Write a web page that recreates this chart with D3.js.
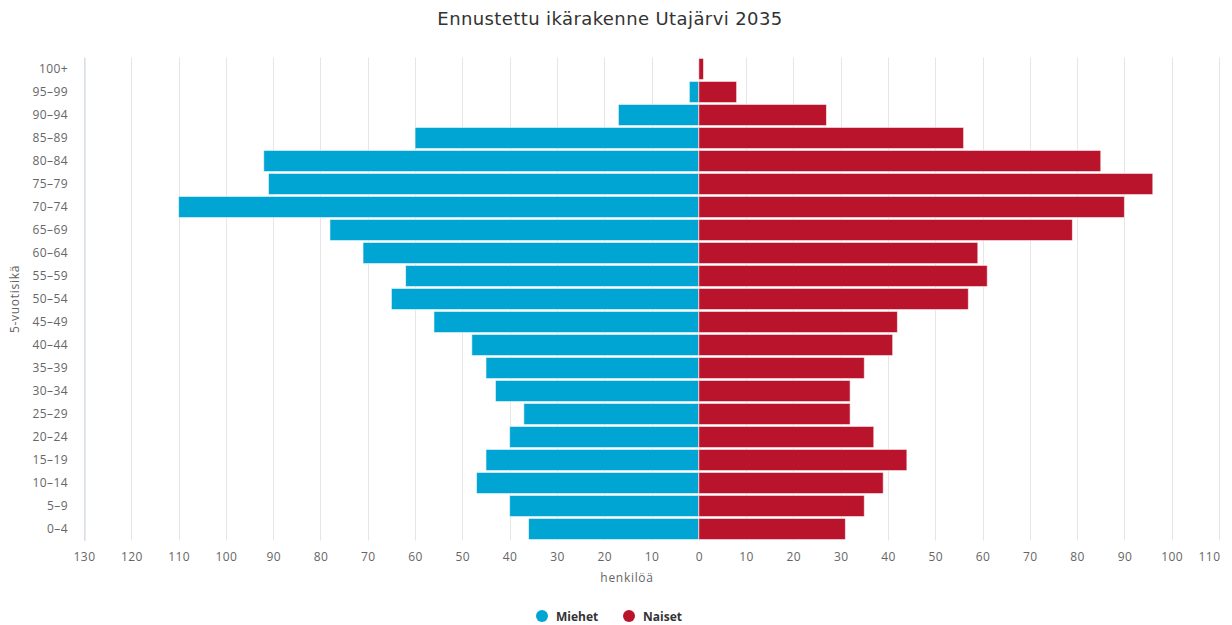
<!DOCTYPE html>
<html>
<head>
<meta charset="utf-8">
<script src="https://cdn.jsdelivr.net/npm/d3@7"></script>
<style>
  body { margin: 0; background: #fff; }
  .axis text { font-family: "Open Sans", sans-serif; font-size: 12px; letter-spacing: 0.4px; fill: #666; }
  .label { font-family: "Open Sans", sans-serif; font-size: 12px; letter-spacing: 0.7px; fill: #666; }
  .title { font-family: "DejaVu Sans", sans-serif; font-size: 18px; letter-spacing: 0.4px; fill: #333; }
  .legend text { font-family: "Open Sans", sans-serif; font-size: 12px; font-weight: bold; fill: #333; }
</style>
</head>
<body>
<div id="chart"></div>
<script>
var ageGroups = ["100+", "95-99", "90-94", "85-89", "80-84", "75-79", "70-74", "65-69", "60-64", "55-59",
  "50-54", "45-49", "40-44", "35-39", "30-34", "25-29", "20-24", "15-19", "10-14", "5-9", "0-4"];
var men = [0, 2, 17, 60, 92, 91, 110, 78, 71, 62, 65, 56, 48, 45, 43, 37, 40, 45, 47, 40, 36];
var women = [1, 8, 27, 56, 85, 96, 90, 79, 59, 61, 57, 42, 41, 35, 32, 32, 37, 44, 39, 35, 31];
var tickValues = [-130, -120, -110, -100, -90, -80, -70, -60, -50, -40, -30, -20, -10, 0, 10, 20, 30, 40, 50, 60, 70, 80, 90, 100, 110];
var seriesNames = ["Miehet", "Naiset"];
var seriesColors = ["#00a5d4", "#ba142c"];

var width = 1232, height = 625;
var margin = {top: 57.5, right: 13, bottom: 84.5, left: 84};
var graphWidth = width - margin.left - margin.right;
var graphHeight = height - margin.top - margin.bottom;

var svg = d3.select("#chart")
  .append("svg")
  .attr("width", width)
  .attr("height", height);

svg.append("text")
  .attr("class", "title")
  .attr("x", 610)
  .attr("y", 25)
  .style("text-anchor", "middle")
  .text("Ennustettu ikärakenne Utajärvi 2035");

var g = svg.append("g")
  .attr("transform", "translate(" + margin.left + "," + margin.top + ")");

var x = d3.scaleLinear()
  .domain([-130, 110])
  .range([0, graphWidth]);

var y = d3.scaleBand()
  .domain(ageGroups)
  .range([0, graphHeight])
  .paddingInner(0.08)
  .paddingOuter(0.04);

// grid
g.selectAll(".grid")
  .data(tickValues)
  .enter()
  .append("line")
  .attr("class", "grid")
  .attr("x1", d => Math.round(x(d)) + 0.5)
  .attr("x2", d => Math.round(x(d)) + 0.5)
  .attr("y1", 0)
  .attr("y2", graphHeight)
  .style("stroke", "#e6e6e6");

// x axis, labels show absolute values
var xAxis = g.append("g")
  .attr("class", "axis")
  .attr("transform", "translate(0," + graphHeight + ")")
  .call(d3.axisBottom(x)
    .tickValues(tickValues)
    .tickFormat(d => Math.abs(d))
    .tickSize(0)
    .tickPadding(12));
xAxis.select(".domain").remove();
// last label is pushed inside like the original
xAxis.selectAll(".tick text")
  .filter(d => d === 110)
  .attr("dx", "-10px");

// y axis
var yAxis = g.append("g")
  .attr("class", "axis")
  .call(d3.axisLeft(y).tickSize(0).tickPadding(16).tickFormat(d => d.replace("-", "–")));
yAxis.select(".domain")
  .style("stroke", "#ccd6eb")
  .attr("transform", "translate(0.5,0)");

// bars
g.selectAll(".men")
  .data(men)
  .enter()
  .append("rect")
  .attr("class", "men")
  .attr("x", d => x(-d))
  .attr("width", d => x(0) - x(-d))
  .attr("y", (d, i) => y(ageGroups[i]))
  .attr("height", y.bandwidth())
  .style("fill", seriesColors[0])
  .style("stroke", "rgba(255,255,255,0.6)")
  .style("stroke-width", 1);

g.selectAll(".women")
  .data(women)
  .enter()
  .append("rect")
  .attr("class", "women")
  .attr("x", x(0))
  .attr("width", d => x(d) - x(0))
  .attr("y", (d, i) => y(ageGroups[i]))
  .attr("height", y.bandwidth())
  .style("fill", seriesColors[1])
  .style("stroke", "rgba(255,255,255,0.6)")
  .style("stroke-width", 1);

// axis titles
svg.append("text")
  .attr("class", "label")
  .attr("transform", "rotate(-90)")
  .attr("x", -(margin.top + graphHeight / 2))
  .attr("y", 19)
  .style("text-anchor", "middle")
  .text("5-vuotisikä");

svg.append("text")
  .attr("class", "label")
  .attr("x", 627)
  .attr("y", 582)
  .style("text-anchor", "middle")
  .text("henkilöä");

// legend
var legend = svg.append("g").attr("class", "legend");
var legendX = [542, 629];
seriesNames.forEach(function(name, i) {
  legend.append("circle")
    .attr("cx", legendX[i])
    .attr("cy", 616)
    .attr("r", 6)
    .style("fill", seriesColors[i]);
  legend.append("text")
    .attr("x", legendX[i] + 14)
    .attr("y", 620.5)
    .text(name);
});
</script>
</body>
</html>
